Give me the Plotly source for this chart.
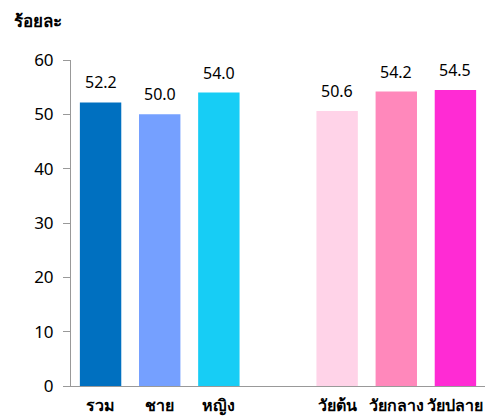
import plotly.graph_objects as go

categories = ["รวม", "ชาย", "หญิง", " ", "วัยต้น", "วัยกลาง", "วัยปลาย"]
values = [52.2, 50.0, 54.0, None, 50.6, 54.2, 54.5]
labels = ["52.2", "50.0", "54.0", "", "50.6", "54.2", "54.5"]
colors = ["#0070C0", "#75A0FF", "#17CDF5", "#FFFFFF", "#FFD3E8", "#FF88BB", "#FF2BD4"]
y_ticks = [0, 10, 20, 30, 40, 50, 60]

FONT = "Noto Sans, Tahoma, sans-serif"

fig = go.Figure(go.Bar(
    x=categories, y=values, marker=dict(color=colors, line=dict(width=0)),
    hoverinfo="skip",
))

annots = []
for c, v, t in zip(categories, values, labels):
    if v is None:
        continue
    annots.append(dict(x=c, y=v, text=t, showarrow=False, yanchor="bottom",
                       yshift=7, font=dict(size=16, color="black", family=FONT)))

annots.append(dict(text="<b>ร้อยละ</b>", xref="paper", yref="paper",
                   x=(4 - 63) / 414.5, y=(378 - 12) / 326,
                   xanchor="left", yanchor="middle", showarrow=False,
                   font=dict(size=17, color="black", family=FONT)))

fig.update_layout(
    width=487, height=411,
    margin=dict(l=63, r=9.5, t=52, b=33, autoexpand=False),
    paper_bgcolor="white", plot_bgcolor="white",
    bargap=0.3, showlegend=False,
    font=dict(family=FONT, size=16, color="black"),
    annotations=annots,
)
fig.update_yaxes(range=[0, 60], tickvals=y_ticks, showgrid=False, showline=True,
                 linecolor="#999999", linewidth=1, ticks="outside", ticklen=7,
                 tickcolor="#999999", tickfont=dict(size=17, color="black"),
                 ticklabelstandoff=6, zeroline=False, automargin=False)
fig.update_xaxes(showgrid=False, showline=True, linecolor="#999999", linewidth=1,
                 ticks="", tickangle=0, ticklabelstandoff=5,
                 tickfont=dict(size=16, color="black", weight="bold"),
                 automargin=False)

fig.write_html("out.html")
